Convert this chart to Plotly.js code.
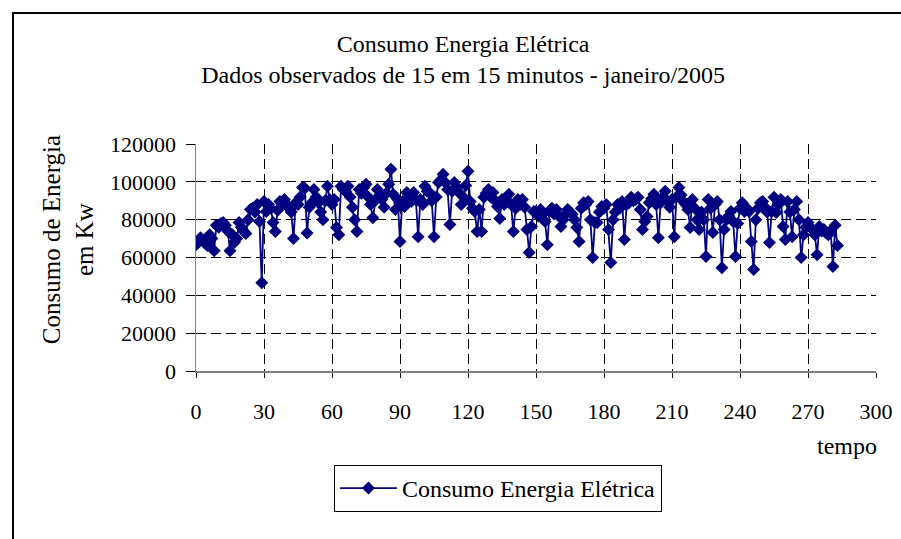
<!DOCTYPE html>
<html>
<head>
<meta charset="utf-8">
<script src="https://cdn.plot.ly/plotly-3.0.1.min.js"></script>
<style>
  html, body { margin: 0; padding: 0; background: #fff; }
  #wrap { position: relative; width: 901px; height: 539px; overflow: hidden; }
  #chart { width: 901px; height: 539px; }
  #frame {
    position: absolute; left: 12px; top: 12px; width: 1000px; height: 1000px;
    border-left: 2px solid #000; border-top: 2px solid #000; pointer-events: none;
  }
</style>
</head>
<body>
<div id="wrap">
  <div id="chart"></div>
  <div id="frame"></div>
</div>
<script>
// Energy consumption readings (kW), one reading every 15 minutes, January 2005
const consumo = [
  66800, 68000, 70500, 69000, 67500, 66300, 72000, 70000, 63600, 77000,
  76000, 78000, 78500, 77000, 74000, 63600, 72000, 68000, 70000, 78500,
  76000, 74000, 72700, 80000, 85400, 86000, 84000, 88000, 79000, 46700,
  89600, 84300, 88000, 86000, 78500, 73700, 85000, 89600, 88000, 90700,
  88000, 86000, 84000, 70000, 89000, 88000, 92000, 97000, 96600, 73000,
  86500, 89000, 96000, 92000, 89000, 84000, 80000, 90000, 97600, 90700,
  88000, 90700, 75800, 72000, 97600, 96000, 95000, 97600, 92000, 86500,
  80000, 73700, 96000, 94000, 97000, 98700, 92000, 88000, 81000, 90000,
  96000, 93000, 90700, 86500, 94000, 98700, 106600, 93400, 85400, 90700,
  68400, 89600, 87000, 94400, 92000, 89600, 94400, 90700, 71000, 90700,
  88000, 97600, 95000, 94400, 90000, 71000, 92000, 99700, 101000, 104000,
  99700, 96000, 77500, 95000, 99700, 97000, 94400, 88000, 92000, 98000,
  105600, 89600, 86000, 84300, 73700, 85400, 73700, 91800, 94000, 96000,
  92000, 94400, 90000, 87000, 80600, 90700, 88000, 90000, 93400, 88000,
  73700, 86000, 90700, 88000, 90700, 86500, 74800, 62600, 76400, 84300,
  84300, 82000, 85400, 83000, 79000, 66800, 84300, 86000, 83000, 85400,
  82000, 76400, 80000, 83000, 85400, 84000, 82800, 80000, 75900, 68400,
  86000, 89000, 88000, 89600, 80000, 60000, 78500, 78500, 84000, 87000,
  86000, 88000, 74800, 57300, 80000, 84000, 88000, 86000, 89600, 69500,
  88000, 89000, 91800, 90000, 90700, 91800, 85400, 74800, 79000, 81700,
  89000, 91000, 93400, 88000, 70500, 89000, 92000, 95000, 90000, 86500,
  90700, 71000, 92000, 97000, 93000, 89600, 88000, 85400, 75900, 90700,
  86000, 80000, 74800, 84000, 80000, 60500, 90700, 86000, 73200, 88000,
  89600, 80000, 54600, 74800, 80000, 82000, 84300, 79000, 60500, 78000,
  86000, 89000, 84300, 86000, 84300, 68400, 53600, 80000, 86000, 89000,
  89600, 86500, 84000, 67900, 84300, 91800, 83800, 88000, 90700, 76400,
  69500, 89600, 84000, 71000, 85400, 89600, 80000, 60000, 72000, 76000,
  78500, 76000, 74800, 72000, 61500, 76400, 74000, 74800, 73000, 72000,
  74000, 55200, 77000, 66300
];
const tempo = consumo.map((_, i) => i);

const xTicks = [0, 30, 60, 90, 120, 150, 180, 210, 240, 270, 300];
const yTicks = [0, 20000, 40000, 60000, 80000, 100000, 120000];
const yTickText = ['0', '20000', '40000', '60000', '80000', '100000', '120000'];

const serieNome = 'Consumo Energia Elétrica';
const titulo = 'Consumo Energia Elétrica<br>Dados observados de 15 em 15 minutos - janeiro/2005';
const tituloY = 'Consumo de Energia<br>em Kw';
const tituloX = 'tempo';

const navy = '#000080';
const fonte = 'Liberation Serif, Times New Roman, serif';
const txt = (size) => ({ family: fonte, size: size, color: '#000' });

const trace = {
  x: tempo,
  y: consumo,
  type: 'scatter',
  mode: 'lines+markers',
  name: serieNome,
  line: { color: navy, width: 1.8 },
  marker: { symbol: 'diamond', size: 10, color: navy }
};

const grid = { gridcolor: '#000', griddash: '10px,5px', gridwidth: 1 };

const layout = {
  width: 901,
  height: 539,
  margin: { l: 196, r: 25, t: 144, b: 168 },
  paper_bgcolor: '#fff',
  plot_bgcolor: '#fff',
  font: txt(22),
  title: {
    text: titulo,
    font: txt(24),
    x: 0.514, xref: 'container', xanchor: 'center',
    y: 0.904, yref: 'container', yanchor: 'top'
  },
  xaxis: Object.assign({
    range: [0, 300],
    tickvals: xTicks,
    ticks: 'outside', ticklen: 5, tickcolor: '#000',
    ticklabelstandoff: 15,
    showline: true, linecolor: '#808080', linewidth: 1.5,
    zeroline: false,
    tickfont: txt(22)
  }, grid),
  yaxis: Object.assign({
    range: [0, 120000],
    tickvals: yTicks,
    ticktext: yTickText,
    ticks: 'outside', ticklen: 9, tickcolor: '#000',
    ticklabelstandoff: 5,
    showline: true, linecolor: '#808080', linewidth: 1.5,
    zeroline: false,
    tickfont: txt(22)
  }, grid),
  showlegend: true,
  legend: {
    orientation: 'h',
    x: 0.444, xanchor: 'center',
    y: -0.414, yanchor: 'top',
    bordercolor: '#000', borderwidth: 1,
    font: txt(24),
    itemwidth: 57
  },
  annotations: [
    {
      text: tituloX,
      xref: 'paper', yref: 'paper',
      x: 1.0044, y: -0.33, xanchor: 'right', yanchor: 'middle',
      showarrow: false,
      font: txt(24)
    },
    {
      text: tituloY,
      xref: 'paper', yref: 'paper',
      x: -0.188, y: 0.577, xanchor: 'center', yanchor: 'middle',
      textangle: -90,
      showarrow: false,
      font: txt(25)
    }
  ]
};

Plotly.newPlot('chart', [trace], layout, { displayModeBar: false, staticPlot: true });
</script>
</body>
</html>
